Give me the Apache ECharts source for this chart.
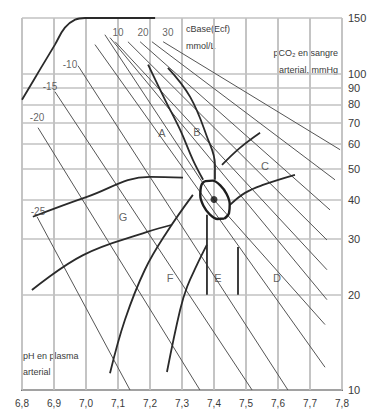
<!DOCTYPE html>
<html>
<head>
<meta charset="utf-8">
<script src="https://cdn.jsdelivr.net/npm/echarts@6/dist/echarts.min.js"></script>
<style>
  html, body { margin: 0; padding: 0; background: #fff; }
  #chart { width: 370px; height: 413px; }
</style>
</head>
<body>
<div id="chart"></div>
<script>
// Axis ticks: plasma pH (x) and arterial pCO2 in mmHg (log y)
const phTicks = [6.8, 6.9, 7.0, 7.1, 7.2, 7.3, 7.4, 7.5, 7.6, 7.7, 7.8];
const pco2Ticks = [10, 20, 30, 40, 50, 60, 70, 80, 90, 100, 150];

// Base excess isopleths, cBase(Ecf) in mmol/L: [pH, pCO2]
const beLevels = [-25, -20, -15, -10, -5, 0, 5, 10, 15, 20, 25, 30];
const beM25 = [[6.847, 35.3], [7.1375, 10]];
const beM20 = [[6.85, 67.5], [7.356, 10]];
const beM15 = [[6.903, 87.7], [7.519, 10]];
const beM10 = [[6.975, 106], [7.631, 10]];
const beM5  = [[7.028, 123.6], [7.747, 11.8]];
const be0   = [[7.059, 132.8], [7.4, 39.9], [7.747, 16.1]];
const beP5  = [[7.075, 130], [7.753, 19.3]];
const beP10 = [[7.091, 126.2], [7.753, 24]];
const beP15 = [[7.131, 126.2], [7.753, 29.8]];
const beP20 = [[7.169, 126.2], [7.7625, 37.1]];
const beP25 = [[7.206, 126.2], [7.778, 46.2]];
const beP30 = [[7.241, 126.2], [7.794, 57.5]];
const beLines = [beM25, beM20, beM15, beM10, beM5, be0, beP5, beP10, beP15, beP20, beP25, beP30];

// Region boundaries
const envelope = [[6.8, 82.7], [6.856, 103], [6.903, 123.6], [6.934, 139.8], [6.966, 148.2], [6.997, 150], [7.216, 150]];
const gUpper = [[6.834, 35.3], [7.003, 40.8], [7.2, 47.2], [7.303, 46.9]];
const gLower = [[6.831, 20.7], [6.991, 26.7], [7.191, 31.6], [7.269, 33.3]];
const fLeft = [[7.075, 11.3], [7.122, 16.7], [7.184, 24], [7.253, 31.6], [7.334, 41.4]];
const fRight = [[7.253, 11.4], [7.294, 17.9], [7.316, 21.2], [7.347, 24.9], [7.378, 28.8]];
const eLeft = [[7.378, 35.8], [7.378, 20]];
const eRight = [[7.475, 28.3], [7.475, 20]];
const abBorder = [[7.194, 106.8], [7.247, 82.7], [7.294, 66.5], [7.334, 53.4], [7.366, 46.2]];
const bRight = [[7.256, 104.4], [7.325, 84.6], [7.378, 63.2], [7.403, 51.5], [7.403, 46.2]];
const cUpper = [[7.425, 51.5], [7.481, 58.3], [7.544, 65.1]];
const cLower = [[7.45, 38.5], [7.497, 42], [7.553, 44.5], [7.653, 47.9]];
// normal zone outline
const normalZone = [[7.4328, 34.84], [7.4469, 36.24], [7.4491, 38.7], [7.4394, 41.65], [7.4197, 44.36],
  [7.3956, 45.91], [7.3738, 45.77], [7.3594, 44.01], [7.3572, 41.2], [7.3669, 38.25],
  [7.3866, 35.94], [7.4106, 34.74], [7.4328, 34.84]];
const normalPoint = [[7.4, 40]];

// Area letters and isopleth labels: [pH, pCO2, text]
const areaLabels = [[7.2375, 65.1, 'A'], [7.347, 65.6, 'B'], [7.559, 51.2, 'C'], [7.597, 22.6, 'D'],
  [7.4125, 22.6, 'E'], [7.2625, 22.6, 'F'], [7.116, 35.3, 'G']];
const beLabels = [[6.85, 36.6, '-25'], [6.847, 72.6, '-20'], [6.8875, 91, '-15'], [6.95, 106.8, '-10'],
  [7.1, 134.9, '10'], [7.178, 134.9, '20'], [7.256, 134.9, '30']];

const FONT = 'Liberation Sans, Arial, sans-serif';
const INK = '#3a3a3a';
const GRID = '#c2c2c2';
const Y_MIN = pco2Ticks[0];
const Y_MAX = pco2Ticks[pco2Ticks.length - 1];

function thin(data) {
  return { type: 'line', data, symbol: 'none', silent: true, smooth: false,
    lineStyle: { color: '#555', width: 1 }, z: 20 };
}
function thick(data, smooth) {
  return { type: 'line', data, symbol: 'none', silent: true, smooth: smooth ? 0.4 : false,
    lineStyle: { color: '#2a2a2a', width: 1.8 }, z: 21 };
}

const series = [];
// grid: horizontal lines at pCO2 ticks (labelled on the right) and vertical lines at pH ticks
series.push({
  type: 'line', data: [], silent: true, z: 10,
  markLine: {
    silent: true, symbol: 'none', animation: false, z: 10,
    lineStyle: { color: GRID, width: 1.6, type: 'solid' },
    label: { position: 'end', distance: 6, formatter: p => String(p.value), color: INK, fontSize: 11, fontFamily: FONT },
    data: pco2Ticks.map(v => ({ yAxis: v })).concat(
      phTicks.map(v => [{ coord: [v, Y_MIN], label: { show: false } }, { coord: [v, Y_MAX] }])
    )
  }
});
beLines.forEach(l => series.push(thin(l)));
[gUpper, gLower, fLeft, fRight, abBorder, bRight, cUpper, cLower].forEach(l => series.push(thick(l, true)));
series.push(thick(envelope, true));
series.push(thick(eLeft, false));
series.push(thick(eRight, false));
series.push({ type: 'line', data: normalZone, symbol: 'none', silent: true, smooth: 0.35,
  lineStyle: { color: '#1e1e1e', width: 2.4 }, z: 22 });
series.push({ type: 'scatter', data: normalPoint, symbolSize: 7, itemStyle: { color: '#111' }, silent: true, z: 23 });
function textSeries(data, size) {
  return { type: 'scatter', data, symbolSize: 0, silent: true, z: 24,
    label: { show: true, position: 'inside', formatter: p => p.value[2], color: INK, fontSize: size, fontFamily: FONT } };
}
series.push(textSeries(areaLabels, 11));
series.push(textSeries(beLabels, 10));

const chart = echarts.init(document.getElementById('chart'), null, { renderer: 'svg' });
chart.setOption({
  animation: false,
  backgroundColor: '#fff',
  grid: { left: 22, right: 28, top: 18, bottom: 23 },
  xAxis: {
    type: 'value', min: 6.8, max: 7.8, interval: 0.1,
    axisLine: { show: true, lineStyle: { color: '#444', width: 2 } },
    axisTick: { show: false },
    axisLabel: { formatter: v => v.toFixed(1).replace('.', ','), color: INK, fontSize: 10, fontFamily: FONT, margin: 8 },
    splitLine: { show: true, lineStyle: { color: GRID, width: 1.6 } }
  },
  yAxis: {
    type: 'log', logBase: 10, min: 10, max: 150, position: 'right',
    axisLine: { show: false }, axisTick: { show: false }, axisLabel: { show: false }, splitLine: { show: false }
  },
  graphic: [
    { type: 'text', x: 186, y: 20, style: { text: 'cBase(Ecf)\nmmol/L', font: '9px ' + FONT, fill: INK, lineHeight: 17 } },
    { type: 'text', x: 338, y: 44, style: { text: 'pCO\u2082 en sangre\narterial, mmHg', font: '9px ' + FONT, fill: INK,
      align: 'right', textAlign: 'right', lineHeight: 17 } },
    { type: 'text', x: 23, y: 348, style: { text: 'pH en plasma\narterial', font: '9px ' + FONT, fill: INK, lineHeight: 16 } }
  ],
  series
});
</script>
</body>
</html>
